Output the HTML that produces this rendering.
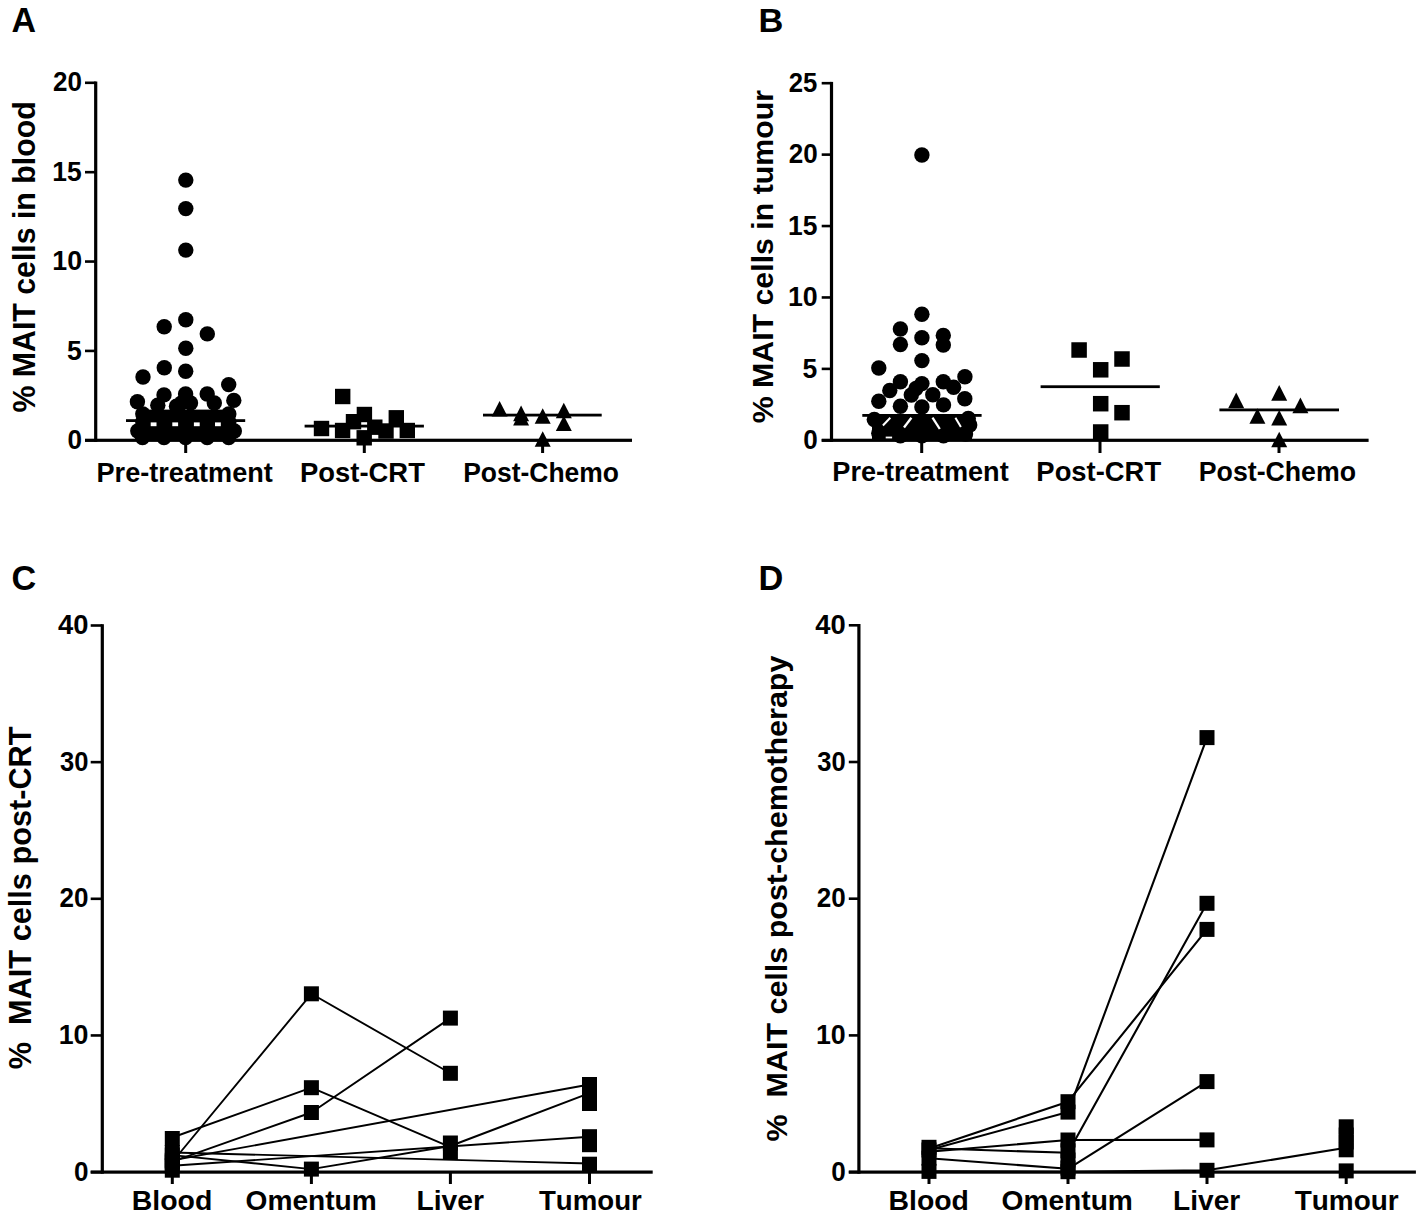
<!DOCTYPE html>
<html><head><meta charset="utf-8"><style>
html,body{margin:0;padding:0;background:#fff;overflow:hidden;width:1417px;height:1222px;}
svg{display:block;}
text{font-kerning:none;}
</style></head><body>
<svg width="1417" height="1222" viewBox="0 0 1417 1222">
<rect width="1417" height="1222" fill="#fff"/>
<rect x="94.10" y="81.50" width="3.20" height="360.40" fill="#000"/>
<rect x="85.00" y="81.50" width="10.70" height="2.60" fill="#000"/>
<text transform="translate(53.10,91.43) scale(0.9403,1)" font-size="27.70" font-family="Liberation Sans, sans-serif" font-weight="bold">20</text>
<rect x="85.00" y="170.88" width="10.70" height="2.60" fill="#000"/>
<text transform="translate(52.34,180.80) scale(0.9542,1)" font-size="27.70" font-family="Liberation Sans, sans-serif" font-weight="bold">15</text>
<rect x="85.00" y="260.25" width="10.70" height="2.60" fill="#000"/>
<text transform="translate(52.31,270.18) scale(0.9667,1)" font-size="27.70" font-family="Liberation Sans, sans-serif" font-weight="bold">10</text>
<rect x="85.00" y="349.62" width="10.70" height="2.60" fill="#000"/>
<text transform="translate(66.98,359.55) scale(0.9577,1)" font-size="27.70" font-family="Liberation Sans, sans-serif" font-weight="bold">5</text>
<rect x="85.00" y="439.00" width="10.70" height="2.60" fill="#000"/>
<text transform="translate(67.57,448.93) scale(0.9413,1)" font-size="27.70" font-family="Liberation Sans, sans-serif" font-weight="bold">0</text>
<rect x="85.00" y="438.70" width="547.00" height="3.20" fill="#000"/>
<rect x="184.20" y="440.30" width="3.00" height="12.70" fill="#000"/>
<rect x="362.80" y="440.30" width="3.00" height="12.70" fill="#000"/>
<rect x="541.10" y="440.30" width="3.00" height="12.70" fill="#000"/>
<text transform="translate(96.48,481.50) scale(0.9775,1)" font-size="27.76" font-family="Liberation Sans, sans-serif" font-weight="bold" >Pre-treatment</text>
<text transform="translate(300.07,481.50) scale(0.9871,1)" font-size="27.76" font-family="Liberation Sans, sans-serif" font-weight="bold" >Post-CRT</text>
<text transform="translate(463.13,481.50) scale(0.9536,1)" font-size="27.76" font-family="Liberation Sans, sans-serif" font-weight="bold" >Post-Chemo</text>
<text transform="translate(35.00,412.45) rotate(-90) scale(0.9837,1)" font-size="30.78" font-family="Liberation Sans, sans-serif" font-weight="bold" >%&#160;MAIT&#160;cells&#160;in&#160;blood</text>
<text transform="translate(11.45,32.00) scale(0.9742,1)" font-size="34.88" font-family="Liberation Sans, sans-serif" font-weight="bold" >A</text>
<rect x="829.90" y="81.90" width="3.20" height="360.00" fill="#000"/>
<rect x="821.70" y="81.90" width="9.80" height="2.60" fill="#000"/>
<text transform="translate(788.71,91.83) scale(0.9285,1)" font-size="27.70" font-family="Liberation Sans, sans-serif" font-weight="bold">25</text>
<rect x="821.70" y="153.32" width="9.80" height="2.60" fill="#000"/>
<text transform="translate(788.70,163.25) scale(0.9403,1)" font-size="27.70" font-family="Liberation Sans, sans-serif" font-weight="bold">20</text>
<rect x="821.70" y="224.74" width="9.80" height="2.60" fill="#000"/>
<text transform="translate(787.94,234.67) scale(0.9542,1)" font-size="27.70" font-family="Liberation Sans, sans-serif" font-weight="bold">15</text>
<rect x="821.70" y="296.16" width="9.80" height="2.60" fill="#000"/>
<text transform="translate(787.91,306.09) scale(0.9667,1)" font-size="27.70" font-family="Liberation Sans, sans-serif" font-weight="bold">10</text>
<rect x="821.70" y="367.58" width="9.80" height="2.60" fill="#000"/>
<text transform="translate(802.58,377.51) scale(0.9577,1)" font-size="27.70" font-family="Liberation Sans, sans-serif" font-weight="bold">5</text>
<rect x="821.70" y="439.00" width="9.80" height="2.60" fill="#000"/>
<text transform="translate(803.17,448.93) scale(0.9413,1)" font-size="27.70" font-family="Liberation Sans, sans-serif" font-weight="bold">0</text>
<rect x="821.70" y="438.70" width="546.90" height="3.20" fill="#000"/>
<rect x="920.20" y="440.30" width="3.00" height="12.70" fill="#000"/>
<rect x="1098.50" y="440.30" width="3.00" height="12.70" fill="#000"/>
<rect x="1277.50" y="440.30" width="3.00" height="12.70" fill="#000"/>
<text transform="translate(832.28,481.20) scale(0.9826,1)" font-size="27.62" font-family="Liberation Sans, sans-serif" font-weight="bold" >Pre-treatment</text>
<text transform="translate(1036.37,481.20) scale(0.9915,1)" font-size="27.62" font-family="Liberation Sans, sans-serif" font-weight="bold" >Post-CRT</text>
<text transform="translate(1198.81,481.20) scale(0.9667,1)" font-size="27.62" font-family="Liberation Sans, sans-serif" font-weight="bold" >Post-Chemo</text>
<text transform="translate(773.00,423.35) rotate(-90) scale(0.9985,1)" font-size="30.36" font-family="Liberation Sans, sans-serif" font-weight="bold" >%&#160;MAIT&#160;cells&#160;in&#160;tumour</text>
<text transform="translate(758.50,32.10) scale(1.0167,1)" font-size="33.87" font-family="Liberation Sans, sans-serif" font-weight="bold" >B</text>
<rect x="100.70" y="624.20" width="3.20" height="549.50" fill="#000"/>
<rect x="90.70" y="624.20" width="11.60" height="2.60" fill="#000"/>
<text transform="translate(58.09,634.13) scale(0.9879,1)" font-size="27.70" font-family="Liberation Sans, sans-serif" font-weight="bold">40</text>
<rect x="90.70" y="760.85" width="11.60" height="2.60" fill="#000"/>
<text transform="translate(60.01,770.78) scale(0.9229,1)" font-size="27.70" font-family="Liberation Sans, sans-serif" font-weight="bold">30</text>
<rect x="90.70" y="897.50" width="11.60" height="2.60" fill="#000"/>
<text transform="translate(59.50,907.43) scale(0.9403,1)" font-size="27.70" font-family="Liberation Sans, sans-serif" font-weight="bold">20</text>
<rect x="90.70" y="1034.15" width="11.60" height="2.60" fill="#000"/>
<text transform="translate(58.71,1044.08) scale(0.9667,1)" font-size="27.70" font-family="Liberation Sans, sans-serif" font-weight="bold">10</text>
<rect x="90.70" y="1170.80" width="11.60" height="2.60" fill="#000"/>
<text transform="translate(73.97,1180.73) scale(0.9413,1)" font-size="27.70" font-family="Liberation Sans, sans-serif" font-weight="bold">0</text>
<rect x="90.70" y="1170.50" width="562.00" height="3.20" fill="#000"/>
<rect x="170.80" y="1172.10" width="3.00" height="11.90" fill="#000"/>
<rect x="309.90" y="1172.10" width="3.00" height="11.90" fill="#000"/>
<rect x="448.90" y="1172.10" width="3.00" height="11.90" fill="#000"/>
<rect x="588.00" y="1172.10" width="3.00" height="11.90" fill="#000"/>
<text transform="translate(131.80,1209.50) scale(1.0355,1)" font-size="27.47" font-family="Liberation Sans, sans-serif" font-weight="bold" >Blood</text>
<text transform="translate(245.55,1209.50) scale(1.0233,1)" font-size="27.47" font-family="Liberation Sans, sans-serif" font-weight="bold" >Omentum</text>
<text transform="translate(416.41,1209.50) scale(1.0283,1)" font-size="27.47" font-family="Liberation Sans, sans-serif" font-weight="bold" >Liver</text>
<text transform="translate(538.99,1209.50) scale(1.0058,1)" font-size="27.47" font-family="Liberation Sans, sans-serif" font-weight="bold" >Tumour</text>
<text transform="translate(31.20,1069.26) rotate(-90) scale(1.0025,1)" font-size="30.64" font-family="Liberation Sans, sans-serif" font-weight="bold" >%&#160;&#160;MAIT&#160;cells&#160;post-CRT</text>
<text transform="translate(11.39,590.10) scale(0.9904,1)" font-size="34.59" font-family="Liberation Sans, sans-serif" font-weight="bold" >C</text>
<rect x="857.30" y="624.00" width="3.20" height="549.70" fill="#000"/>
<rect x="848.80" y="624.00" width="10.10" height="2.60" fill="#000"/>
<text transform="translate(815.29,633.93) scale(0.9879,1)" font-size="27.70" font-family="Liberation Sans, sans-serif" font-weight="bold">40</text>
<rect x="848.80" y="760.70" width="10.10" height="2.60" fill="#000"/>
<text transform="translate(817.21,770.63) scale(0.9229,1)" font-size="27.70" font-family="Liberation Sans, sans-serif" font-weight="bold">30</text>
<rect x="848.80" y="897.40" width="10.10" height="2.60" fill="#000"/>
<text transform="translate(816.70,907.33) scale(0.9403,1)" font-size="27.70" font-family="Liberation Sans, sans-serif" font-weight="bold">20</text>
<rect x="848.80" y="1034.10" width="10.10" height="2.60" fill="#000"/>
<text transform="translate(815.91,1044.03) scale(0.9667,1)" font-size="27.70" font-family="Liberation Sans, sans-serif" font-weight="bold">10</text>
<rect x="848.80" y="1170.80" width="10.10" height="2.60" fill="#000"/>
<text transform="translate(831.17,1180.73) scale(0.9413,1)" font-size="27.70" font-family="Liberation Sans, sans-serif" font-weight="bold">0</text>
<rect x="848.80" y="1170.50" width="567.10" height="3.20" fill="#000"/>
<rect x="927.50" y="1172.10" width="3.00" height="11.90" fill="#000"/>
<rect x="1066.50" y="1172.10" width="3.00" height="11.90" fill="#000"/>
<rect x="1205.50" y="1172.10" width="3.00" height="11.90" fill="#000"/>
<rect x="1344.70" y="1172.10" width="3.00" height="11.90" fill="#000"/>
<text transform="translate(888.50,1209.60) scale(1.0274,1)" font-size="27.62" font-family="Liberation Sans, sans-serif" font-weight="bold" >Blood</text>
<text transform="translate(1001.55,1209.60) scale(1.0195,1)" font-size="27.62" font-family="Liberation Sans, sans-serif" font-weight="bold" >Omentum</text>
<text transform="translate(1173.12,1209.60) scale(1.0166,1)" font-size="27.62" font-family="Liberation Sans, sans-serif" font-weight="bold" >Liver</text>
<text transform="translate(1294.69,1209.60) scale(1.0122,1)" font-size="27.62" font-family="Liberation Sans, sans-serif" font-weight="bold" >Tumour</text>
<text transform="translate(787.40,1141.46) rotate(-90) scale(1.0317,1)" font-size="29.53" font-family="Liberation Sans, sans-serif" font-weight="bold" >%&#160;&#160;MAIT&#160;cells&#160;post-chemotherapy</text>
<text transform="translate(758.60,590.10) scale(0.9946,1)" font-size="34.59" font-family="Liberation Sans, sans-serif" font-weight="bold" >D</text>
<circle cx="185.80" cy="180.10" r="7.7"/>
<circle cx="185.80" cy="208.60" r="7.7"/>
<circle cx="185.80" cy="250.10" r="7.7"/>
<circle cx="185.80" cy="319.70" r="7.7"/>
<circle cx="164.20" cy="326.70" r="7.7"/>
<circle cx="207.30" cy="333.90" r="7.7"/>
<circle cx="185.80" cy="348.30" r="7.7"/>
<circle cx="164.30" cy="367.80" r="7.7"/>
<circle cx="185.70" cy="371.30" r="7.7"/>
<circle cx="143.00" cy="377.00" r="7.7"/>
<circle cx="228.70" cy="384.60" r="7.7"/>
<circle cx="233.80" cy="400.40" r="7.7"/>
<circle cx="137.40" cy="401.70" r="7.7"/>
<circle cx="164.00" cy="394.90" r="7.7"/>
<circle cx="185.60" cy="394.00" r="7.7"/>
<circle cx="207.20" cy="394.00" r="7.7"/>
<circle cx="157.80" cy="405.20" r="7.7"/>
<circle cx="176.50" cy="406.20" r="7.7"/>
<circle cx="181.50" cy="403.00" r="7.7"/>
<circle cx="190.50" cy="403.00" r="7.7"/>
<circle cx="214.30" cy="403.00" r="7.7"/>
<circle cx="142.80" cy="414.00" r="7.7"/>
<circle cx="142.80" cy="422.00" r="7.7"/>
<circle cx="137.80" cy="431.00" r="7.7"/>
<circle cx="234.30" cy="431.00" r="7.7"/>
<circle cx="228.80" cy="414.00" r="7.7"/>
<circle cx="228.80" cy="422.00" r="7.7"/>
<circle cx="142.50" cy="437.60" r="7.7"/>
<circle cx="164.00" cy="437.60" r="7.7"/>
<circle cx="185.60" cy="437.60" r="7.7"/>
<circle cx="207.20" cy="437.60" r="7.7"/>
<circle cx="228.70" cy="437.60" r="7.7"/>
<rect x="140.00" y="409.60" width="92.00" height="31.40" fill="#000"/>
<rect x="150.70" y="422.40" width="5.80" height="3.80" fill="#fff"/>
<rect x="172.30" y="422.40" width="5.80" height="3.80" fill="#fff"/>
<rect x="193.90" y="422.40" width="5.80" height="3.80" fill="#fff"/>
<rect x="215.00" y="422.40" width="5.80" height="3.80" fill="#fff"/>
<rect x="126.00" y="419.20" width="119.20" height="2.80" fill="#000"/>
<rect x="335.00" y="388.80" width="15.4" height="15.4"/>
<rect x="313.80" y="420.80" width="15.4" height="15.4"/>
<rect x="356.70" y="406.80" width="15.4" height="15.4"/>
<rect x="345.80" y="414.00" width="15.4" height="15.4"/>
<rect x="334.90" y="422.80" width="15.4" height="15.4"/>
<rect x="388.60" y="410.10" width="15.4" height="15.4"/>
<rect x="367.10" y="419.50" width="15.4" height="15.4"/>
<rect x="399.60" y="422.80" width="15.4" height="15.4"/>
<rect x="356.50" y="430.10" width="15.4" height="15.4"/>
<rect x="378.30" y="423.30" width="15.4" height="15.4"/>
<rect x="304.60" y="424.70" width="119.30" height="2.80" fill="#000"/>
<path d="M499.60 401.00 L507.60 416.60 L491.60 416.60Z"/>
<path d="M521.10 405.60 L529.10 421.20 L513.10 421.20Z"/>
<path d="M521.10 410.00 L529.10 425.60 L513.10 425.60Z"/>
<path d="M542.70 408.20 L550.70 423.80 L534.70 423.80Z"/>
<path d="M563.80 402.70 L571.80 418.30 L555.80 418.30Z"/>
<path d="M563.80 415.50 L571.80 431.10 L555.80 431.10Z"/>
<path d="M542.70 431.20 L550.70 446.80 L534.70 446.80Z"/>
<rect x="483.00" y="413.70" width="118.70" height="2.80" fill="#000"/>
<circle cx="921.90" cy="155.00" r="7.7"/>
<circle cx="921.90" cy="314.30" r="7.7"/>
<circle cx="900.40" cy="329.00" r="7.7"/>
<circle cx="900.40" cy="344.50" r="7.7"/>
<circle cx="921.90" cy="337.70" r="7.7"/>
<circle cx="943.30" cy="335.40" r="7.7"/>
<circle cx="943.30" cy="345.00" r="7.7"/>
<circle cx="921.90" cy="360.60" r="7.7"/>
<circle cx="878.80" cy="368.00" r="7.7"/>
<circle cx="964.90" cy="376.70" r="7.7"/>
<circle cx="900.40" cy="381.70" r="7.7"/>
<circle cx="889.80" cy="390.50" r="7.7"/>
<circle cx="878.80" cy="401.30" r="7.7"/>
<circle cx="921.90" cy="383.60" r="7.7"/>
<circle cx="916.00" cy="388.50" r="7.7"/>
<circle cx="911.30" cy="395.00" r="7.7"/>
<circle cx="943.30" cy="381.70" r="7.7"/>
<circle cx="953.60" cy="387.20" r="7.7"/>
<circle cx="932.80" cy="394.80" r="7.7"/>
<circle cx="964.80" cy="398.80" r="7.7"/>
<circle cx="900.40" cy="406.30" r="7.7"/>
<circle cx="921.90" cy="407.00" r="7.7"/>
<circle cx="943.50" cy="404.90" r="7.7"/>
<circle cx="874.30" cy="419.50" r="7.7"/>
<circle cx="878.80" cy="433.30" r="7.7"/>
<circle cx="900.40" cy="435.80" r="7.7"/>
<circle cx="921.90" cy="435.80" r="7.7"/>
<circle cx="943.50" cy="435.80" r="7.7"/>
<circle cx="965.50" cy="434.00" r="7.7"/>
<circle cx="969.70" cy="425.00" r="7.7"/>
<circle cx="968.30" cy="418.50" r="7.7"/>
<rect x="872.00" y="414.00" width="100.00" height="27.00" fill="#000"/>
<line x1="882.9" y1="425.5" x2="890.3" y2="417.7" stroke="#fff" stroke-width="2.0"/>
<line x1="904.0" y1="427.5" x2="911.4" y2="417.7" stroke="#fff" stroke-width="2.3"/>
<line x1="932.5" y1="417.7" x2="939.8" y2="429.0" stroke="#fff" stroke-width="2.3"/>
<line x1="955.4" y1="417.7" x2="960.9" y2="427.0" stroke="#fff" stroke-width="2.0"/>
<rect x="885.70" y="436.60" width="6.40" height="1.80" fill="#fff"/>
<rect x="862.30" y="414.00" width="119.30" height="2.80" fill="#000"/>
<rect x="1071.35" y="342.25" width="15.5" height="15.5"/>
<rect x="1114.25" y="351.25" width="15.5" height="15.5"/>
<rect x="1092.95" y="362.05" width="15.5" height="15.5"/>
<rect x="1092.95" y="395.95" width="15.5" height="15.5"/>
<rect x="1114.25" y="404.95" width="15.5" height="15.5"/>
<rect x="1092.95" y="424.25" width="15.5" height="15.5"/>
<rect x="1040.60" y="385.30" width="119.20" height="2.80" fill="#000"/>
<path d="M1236.20 392.60 L1244.20 408.20 L1228.20 408.20Z"/>
<path d="M1279.20 385.10 L1287.20 400.70 L1271.20 400.70Z"/>
<path d="M1300.40 397.60 L1308.40 413.20 L1292.40 413.20Z"/>
<path d="M1257.40 408.20 L1265.40 423.80 L1249.40 423.80Z"/>
<path d="M1279.20 409.90 L1287.20 425.50 L1271.20 425.50Z"/>
<path d="M1279.20 431.70 L1287.20 447.30 L1271.20 447.30Z"/>
<rect x="1219.40" y="408.50" width="119.60" height="2.80" fill="#000"/>
<path d="M172.30 1137.50 L311.40 1087.70 L450.40 1147.10" fill="none" stroke="#000" stroke-width="1.9" stroke-linejoin="round"/>
<path d="M172.30 1162.00 L311.40 993.80 L450.40 1073.30" fill="none" stroke="#000" stroke-width="1.9" stroke-linejoin="round"/>
<path d="M172.30 1161.60 L311.40 1112.50 L450.40 1018.10" fill="none" stroke="#000" stroke-width="1.9" stroke-linejoin="round"/>
<path d="M172.30 1152.50 L589.50 1163.50" fill="none" stroke="#000" stroke-width="1.9" stroke-linejoin="round"/>
<path d="M172.30 1160.30 L589.50 1084.50" fill="none" stroke="#000" stroke-width="1.9" stroke-linejoin="round"/>
<path d="M172.30 1165.80 L589.50 1136.70" fill="none" stroke="#000" stroke-width="1.9" stroke-linejoin="round"/>
<path d="M172.30 1155.10 L311.40 1169.10 L450.40 1146.00 L589.50 1093.20" fill="none" stroke="#000" stroke-width="1.9" stroke-linejoin="round"/>
<rect x="164.80" y="1131.00" width="15.0" height="15.0"/>
<rect x="164.80" y="1145.00" width="15.0" height="15.0"/>
<rect x="164.80" y="1147.60" width="15.0" height="15.0"/>
<rect x="164.80" y="1152.80" width="15.0" height="15.0"/>
<rect x="164.80" y="1154.50" width="15.0" height="15.0"/>
<rect x="164.80" y="1158.30" width="15.0" height="15.0"/>
<rect x="164.80" y="1162.70" width="15.0" height="15.0"/>
<rect x="303.90" y="986.30" width="15.0" height="15.0"/>
<rect x="303.90" y="1080.20" width="15.0" height="15.0"/>
<rect x="303.90" y="1105.00" width="15.0" height="15.0"/>
<rect x="303.90" y="1161.60" width="15.0" height="15.0"/>
<rect x="442.90" y="1010.60" width="15.0" height="15.0"/>
<rect x="442.90" y="1065.80" width="15.0" height="15.0"/>
<rect x="442.90" y="1135.50" width="15.0" height="15.0"/>
<rect x="442.90" y="1144.90" width="15.0" height="15.0"/>
<rect x="582.00" y="1077.00" width="15.0" height="15.0"/>
<rect x="582.00" y="1085.20" width="15.0" height="15.0"/>
<rect x="582.00" y="1096.00" width="15.0" height="15.0"/>
<rect x="582.00" y="1129.20" width="15.0" height="15.0"/>
<rect x="582.00" y="1137.20" width="15.0" height="15.0"/>
<rect x="582.00" y="1156.70" width="15.0" height="15.0"/>
<path d="M929.00 1148.50 L1068.00 1101.70 L1207.00 929.40" fill="none" stroke="#000" stroke-width="2.1" stroke-linejoin="round"/>
<path d="M929.00 1150.00 L1068.00 1112.10 L1207.00 737.60" fill="none" stroke="#000" stroke-width="2.1" stroke-linejoin="round"/>
<path d="M929.00 1151.70 L1068.00 1140.00 L1207.00 1139.90" fill="none" stroke="#000" stroke-width="2.1" stroke-linejoin="round"/>
<path d="M929.00 1148.30 L1068.00 1152.80 L1207.00 903.30" fill="none" stroke="#000" stroke-width="2.1" stroke-linejoin="round"/>
<path d="M929.00 1158.20 L1068.00 1168.80 L1207.00 1081.60" fill="none" stroke="#000" stroke-width="2.1" stroke-linejoin="round"/>
<path d="M929.00 1171.40 L1068.00 1171.70 L1207.00 1170.30 L1346.20 1147.70" fill="none" stroke="#000" stroke-width="2.1" stroke-linejoin="round"/>
<rect x="921.50" y="1139.80" width="15.0" height="15.0"/>
<rect x="921.50" y="1142.50" width="15.0" height="15.0"/>
<rect x="921.50" y="1150.70" width="15.0" height="15.0"/>
<rect x="921.50" y="1163.90" width="15.0" height="15.0"/>
<rect x="1060.50" y="1094.20" width="15.0" height="15.0"/>
<rect x="1060.50" y="1104.60" width="15.0" height="15.0"/>
<rect x="1060.50" y="1132.50" width="15.0" height="15.0"/>
<rect x="1060.50" y="1143.30" width="15.0" height="15.0"/>
<rect x="1060.50" y="1152.50" width="15.0" height="15.0"/>
<rect x="1060.50" y="1160.50" width="15.0" height="15.0"/>
<rect x="1060.50" y="1164.20" width="15.0" height="15.0"/>
<rect x="1199.50" y="730.10" width="15.0" height="15.0"/>
<rect x="1199.50" y="895.80" width="15.0" height="15.0"/>
<rect x="1199.50" y="921.90" width="15.0" height="15.0"/>
<rect x="1199.50" y="1074.10" width="15.0" height="15.0"/>
<rect x="1199.50" y="1132.40" width="15.0" height="15.0"/>
<rect x="1199.50" y="1162.80" width="15.0" height="15.0"/>
<rect x="1338.70" y="1119.30" width="15.0" height="15.0"/>
<rect x="1338.70" y="1127.50" width="15.0" height="15.0"/>
<rect x="1338.70" y="1134.50" width="15.0" height="15.0"/>
<rect x="1338.70" y="1142.30" width="15.0" height="15.0"/>
<rect x="1338.70" y="1163.40" width="15.0" height="15.0"/>
</svg></body></html>
